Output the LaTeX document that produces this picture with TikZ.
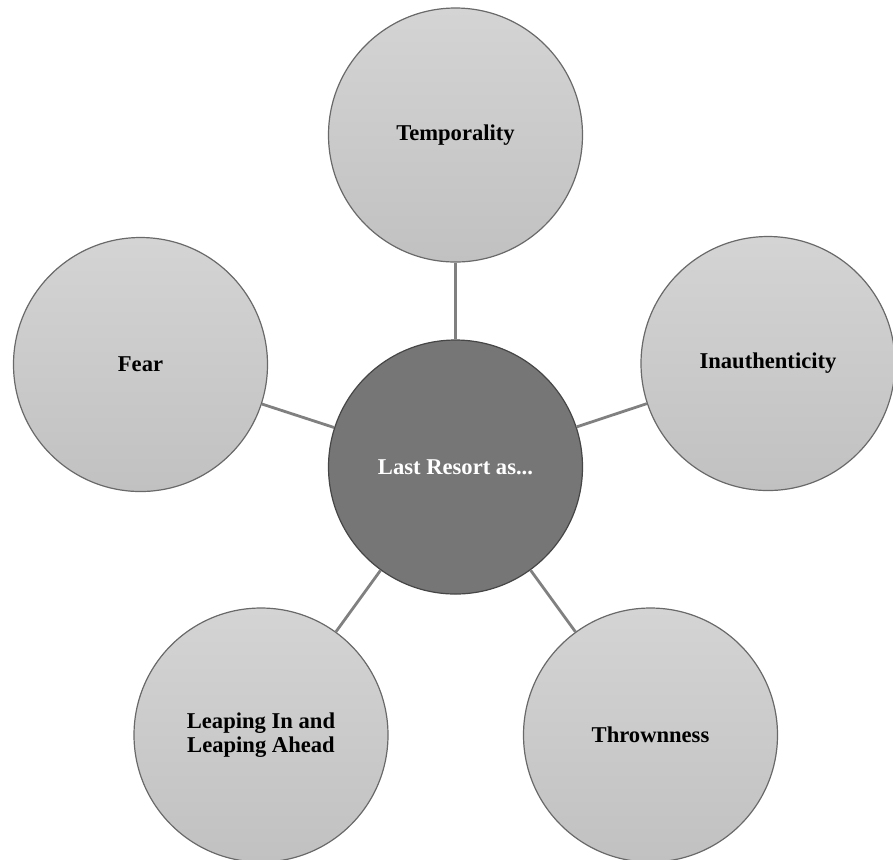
\documentclass[tikz,border=0pt]{standalone}
\usepackage{fontspec}
\setmainfont{Liberation Serif}
\usetikzlibrary{positioning}

\definecolor{bubtop}{RGB}{212,212,212}
\definecolor{bubbot}{RGB}{193,193,193}
\definecolor{bubline}{RGB}{105,105,105}
\definecolor{hubfill}{RGB}{118,118,118}
\definecolor{hubline}{RGB}{70,70,70}
\definecolor{linkgray}{RGB}{128,128,128}

\begin{document}
\begin{tikzpicture}[x=0.5pt,y=-0.5pt,
  bubble/.style={circle,draw=bubline,line width=0.6pt,top color=bubtop,bottom color=bubbot,
                 minimum size=127pt,inner sep=0pt,align=center,
                 font=\fontsize{11.3}{11.8}\selectfont\bfseries},
  hub/.style={circle,draw=hubline,line width=0.6pt,fill=hubfill,text=white,
              minimum size=127pt,inner sep=0pt,align=center,
              font=\fontsize{11.3}{11.8}\selectfont\bfseries},
  link/.style={draw=linkgray,line width=1.4pt}
]
  \useasboundingbox (0,0) rectangle (893,859);
  \clip (0,0) rectangle (893,859);

  \node[hub]    (last)  at (455.5,467)  {Last Resort as...};
  \node[bubble] (temp)  at (455.5,135)  {Temporality};
  \node[bubble] (fear)  at (140.5,364.5) {Fear};
  \node[bubble] (inaut) at (768,363.5)  {Inauthenticity};
  \node[bubble] (leap)  at (261,735)    {Leaping In and\\Leaping Ahead};
  \node[bubble] (thrown) at (650.5,735) {Thrownness};

  \foreach \n in {temp,fear,inaut,leap,thrown}
    \draw[link] (last) -- (\n);
\end{tikzpicture}
\end{document}
